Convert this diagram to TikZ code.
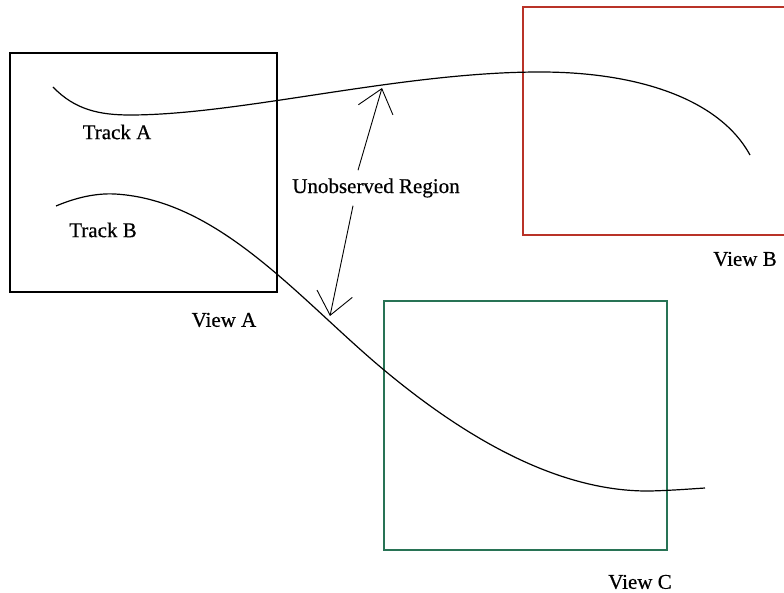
\documentclass[tikz,border=0pt]{standalone}
\usepackage{fontspec}
\setmainfont[FakeBold=0.5]{Liberation Serif}
\usetikzlibrary{arrows.meta}
\definecolor{viewred}{RGB}{185,50,40}
\definecolor{viewgreen}{RGB}{40,115,85}
\tikzset{
  viewbox/.style={line width=1.4pt},
  track/.style={line width=1.2pt, black},
  lbl/.style={font=\fontsize{21}{24}\selectfont, inner sep=1pt},
  gap/.style={line width=0.9pt, -{Straight Barb[length=22pt,width=36pt,line width=0.9pt]}},
}
\begin{document}
\begin{tikzpicture}[x=1pt,y=-1pt]
\useasboundingbox (0,0) rectangle (784,593);
\fill[white] (0,0) rectangle (784,593);
% views
\draw[viewbox, black] (10,53) rectangle (277,292);
\draw[viewbox, viewred] (523,7) rectangle (800,235);
\draw[viewbox, viewgreen] (384,301) rectangle (667,550);
% tracks
\draw[track] (53,87) .. controls (75,110) and (100,115) .. (130,115)
  .. controls (240,115) and (400,72) .. (540,72)
  .. controls (640,72) and (720,100) .. (750,155);
\draw[track] (56,206) .. controls (75,198) and (95,193) .. (115,194)
  .. controls (220,200) and (300,300) .. (384,370)
  .. controls (468,440) and (560,492) .. (650,491)
  .. controls (670,490.5) and (690,489) .. (705,488);
% labels
\node[lbl] (ta) at (117,132) {Track A};
\node[lbl] (tb) at (103,230) {Track B};
\node[lbl] (va) at (224,320) {View A};
\node[lbl] (vb) at (745,259) {View B};
\node[lbl] (vc) at (640,582) {View C};
\node[lbl, inner sep=8pt] (ur) at (376,188) {Unobserved Region};
% unobserved region arrows
\coordinate (pa) at (382,88);
\coordinate (pb) at (330,316);
\draw[gap] (ur.north) ++(-18,0) -- (pa);
\draw[gap] (ur.south) ++(-23,0) -- (pb);
\end{tikzpicture}
\end{document}
